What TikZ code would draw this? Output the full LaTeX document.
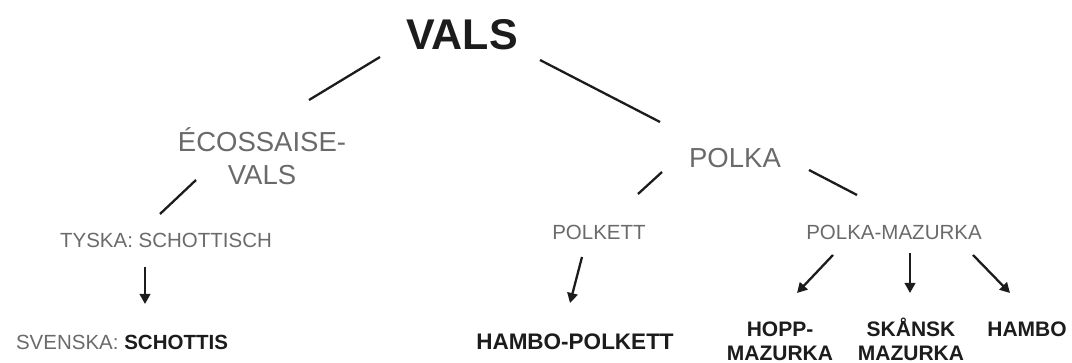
\documentclass[tikz,border=0pt]{standalone}
\usepackage{fontspec}
\setmainfont{Liberation Sans}
\usetikzlibrary{arrows.meta}
\definecolor{soft}{HTML}{6A6A6A}
\definecolor{ink}{HTML}{1C1C1C}
\tikzset{
  x=1pt, y=-1pt,
  lbl/.style={inner sep=0pt, anchor=base, align=center},
  title/.style={lbl, text=ink, font=\bfseries\fontsize{43}{48}\selectfont},
  major/.style={lbl, text=soft, font=\fontsize{27.5}{33}\selectfont},
  minor/.style={lbl, text=soft, font=\fontsize{20.5}{24}\selectfont},
  leaf/.style={lbl, text=ink, font=\bfseries\fontsize{21}{24}\selectfont},
  branch/.style={draw=ink, line width=2.3pt},
  lead/.style={draw=ink, line width=2.3pt, -{Triangle[length=10pt,width=10.5pt]}}
}
\begin{document}
\begin{tikzpicture}
\useasboundingbox (0,0) rectangle (1072,363);

% labels (multi-line labels sit on the baseline of their last line)
\node[title] (vals) at (462,50) {VALS};
\node[major] (ecos) at (262,185) {ÉCOSSAISE-\\VALS};
\node[major] (polka) at (735,168) {POLKA};
\node[minor] (tyska) at (166,248) {TYSKA: SCHOTTISCH};
\node[minor] (polkett) at (599,240) {POLKETT};
\node[minor] (pm) at (894,240) {POLKA-MAZURKA};
\node[lbl, font=\fontsize{20.5}{24}\selectfont] (svenska) at (122,350)
  {\textcolor{soft}{SVENSKA:} \textcolor{ink}{\bfseries SCHOTTIS}};
\node[leaf, font=\bfseries\fontsize{22.5}{26}\selectfont] (hpolkett) at (575,350) {HAMBO-POLKETT};
\node[leaf] (hopp) at (780,360.5) {HOPP-\\MAZURKA};
\node[leaf] (skansk) at (911,360.5) {SKÅNSK\\MAZURKA};
\node[leaf] (hambo) at (1027,337) {HAMBO};

% end points of the connectors
\coordinate (v-e) at (380,57);   \coordinate (e-v) at (309,100);
\coordinate (v-p) at (540,60);   \coordinate (p-v) at (660,122);
\coordinate (e-t) at (196,180);  \coordinate (t-e) at (160,214);
\coordinate (p-k) at (662,172);  \coordinate (k-p) at (638,194);
\coordinate (p-m) at (809,170);  \coordinate (m-p) at (857,195);
\coordinate (t-s) at (145,267);  \coordinate (s-t) at (145,304);
\coordinate (k-h) at (582,257);  \coordinate (h-k) at (570,303);
\coordinate (m-o) at (833,255);  \coordinate (o-m) at (797,293);
\coordinate (m-s) at (910,253);  \coordinate (s-m) at (910,293);
\coordinate (m-h) at (973,255);  \coordinate (h-m) at (1010,293);

% plain branches
\draw[branch] (v-e) -- (e-v);
\draw[branch] (v-p) -- (p-v);
\draw[branch] (e-t) -- (t-e);
\draw[branch] (p-k) -- (k-p);
\draw[branch] (p-m) -- (m-p);

% arrows to the final dances
\draw[lead] (t-s) -- (s-t);
\draw[lead] (k-h) -- (h-k);
\draw[lead] (m-o) -- (o-m);
\draw[lead] (m-s) -- (s-m);
\draw[lead] (m-h) -- (h-m);
\end{tikzpicture}
\end{document}
